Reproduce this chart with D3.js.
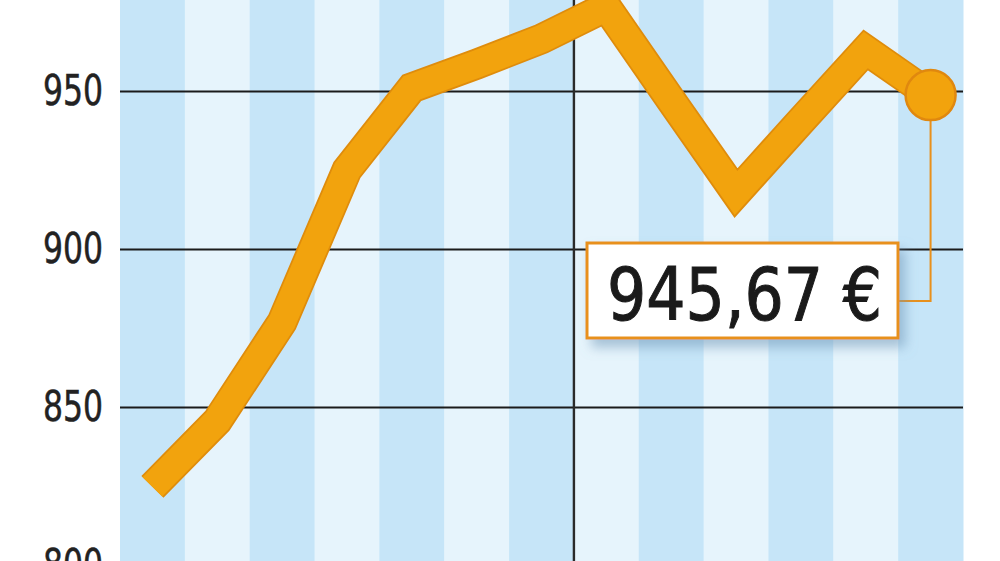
<!DOCTYPE html>
<html>
<head>
<meta charset="utf-8">
<script src="https://cdn.jsdelivr.net/npm/d3@7"></script>
<style>
  body { margin: 0; background: #fff; }
  svg { display: block; }
  .tick text { font-family: "DejaVu Sans Condensed", "DejaVu Sans", sans-serif; font-stretch: condensed; }
</style>
</head>
<body>
<div id="chart"></div>
<script>
// months, the year changes between Dec and Jan (vertical line)
const months = ["Jun", "Jul", "Aug", "Sep", "Oct", "Nov", "Dec", "Jan", "Feb", "Mar", "Apr", "May", "Jun "];
const prices = [824.7, 845.6, 876.9, 925, 951, 958.5, 966.5, 976.6, 947, 917.7, 940.5, 963, 948.7];
const yTicks = [800, 850, 900, 950];
const lastLabel = "945,67 €";

const width = 1000, height = 561;
const margin = { top: 0, right: 37, bottom: 0, left: 120 };

const svg = d3.select("#chart").append("svg")
    .attr("width", width)
    .attr("height", height);

const defs = svg.append("defs");
const shadow = defs.append("filter").attr("id", "shadow")
    .attr("x", "-10%").attr("y", "-10%").attr("width", "130%").attr("height", "150%");
shadow.append("feDropShadow")
    .attr("dx", 6).attr("dy", 8).attr("stdDeviation", 6)
    .attr("flood-color", "#6f98b8").attr("flood-opacity", 0.55);

// band scale for the stripes, points sit in the middle of each band
const x = d3.scaleBand()
    .domain(months)
    .range([margin.left, width - margin.right])
    .padding(0);

const y = d3.scaleLinear()
    .domain([800, 950])
    .range([565, 91]);

const cx = d => x(d) + x.bandwidth() / 2;

// stripes
svg.append("g").selectAll("rect")
    .data(months)
    .enter().append("rect")
    .attr("x", d => x(d))
    .attr("y", 0)
    .attr("width", x.bandwidth() + 0.5)
    .attr("height", height)
    .attr("fill", (d, i) => i % 2 === 0 ? "#c6e5f8" : "#e6f4fc");

// horizontal grid + labels
const yAxis = d3.axisLeft(y)
    .tickValues(yTicks)
    .tickSize(-(width - margin.right - margin.left))
    .tickPadding(17)
    .tickFormat(d3.format("d"));

const gy = svg.append("g")
    .attr("transform", "translate(" + margin.left + ",0)")
    .call(yAxis);
gy.select(".domain").remove();
gy.selectAll(".tick line").attr("stroke", "#1b1b1b").attr("stroke-width", 2.2);
gy.selectAll(".tick text")
    .attr("fill", "#222")
    .attr("stroke", "#222")
    .attr("stroke-width", 0.5)
    .attr("font-size", 42)
    .attr("textLength", 60)
    .attr("lengthAdjust", "spacingAndGlyphs");

// year separator
svg.append("line")
    .attr("x1", x(months[7])).attr("x2", x(months[7]))
    .attr("y1", 0).attr("y2", height)
    .attr("stroke", "#2a2a2a")
    .attr("stroke-width", 2.4);

// callout connector from the last point
const last = months.length - 1;
const lx = cx(months[last]), ly = y(prices[last]);
const box = { x: 587, y: 243, w: 311, h: 95 };
const connY = 301;

svg.append("path")
    .attr("d", "M" + lx + "," + ly + "V" + connY + "H" + (box.x + box.w))
    .attr("fill", "none")
    .attr("stroke", "#e8901c")
    .attr("stroke-width", 2);

// the price line: darker outline under the orange body
const line = d3.line()
    .x((d, i) => cx(months[i]))
    .y(d => y(d));

svg.append("path")
    .datum(prices)
    .attr("d", line)
    .attr("fill", "none")
    .attr("stroke", "#df8c0c")
    .attr("stroke-width", 31)
    .attr("stroke-linejoin", "miter")
    .attr("stroke-linecap", "butt");

svg.append("path")
    .datum(prices)
    .attr("d", line)
    .attr("fill", "none")
    .attr("stroke", "#f2a30d")
    .attr("stroke-width", 27.5)
    .attr("stroke-linejoin", "miter")
    .attr("stroke-linecap", "butt");

svg.append("circle")
    .attr("cx", lx)
    .attr("cy", ly)
    .attr("r", 25)
    .attr("fill", "#f2a30d")
    .attr("stroke", "#e0880f")
    .attr("stroke-width", 2.5);

// label box
svg.append("rect")
    .attr("x", box.x).attr("y", box.y)
    .attr("width", box.w).attr("height", box.h)
    .attr("fill", "#fff")
    .attr("stroke", "#e8901c")
    .attr("stroke-width", 3)
    .attr("filter", "url(#shadow)");

svg.append("text")
    .attr("x", 607)
    .attr("y", 320)
    .attr("font-family", "'DejaVu Sans Condensed', 'DejaVu Sans', sans-serif")
    .attr("font-size", 73)
    .attr("fill", "#1a1a1a")
    .attr("stroke", "#1a1a1a")
    .attr("stroke-width", 1)
    .attr("textLength", 275)
    .attr("lengthAdjust", "spacingAndGlyphs")
    .text(lastLabel);
</script>
</body>
</html>
